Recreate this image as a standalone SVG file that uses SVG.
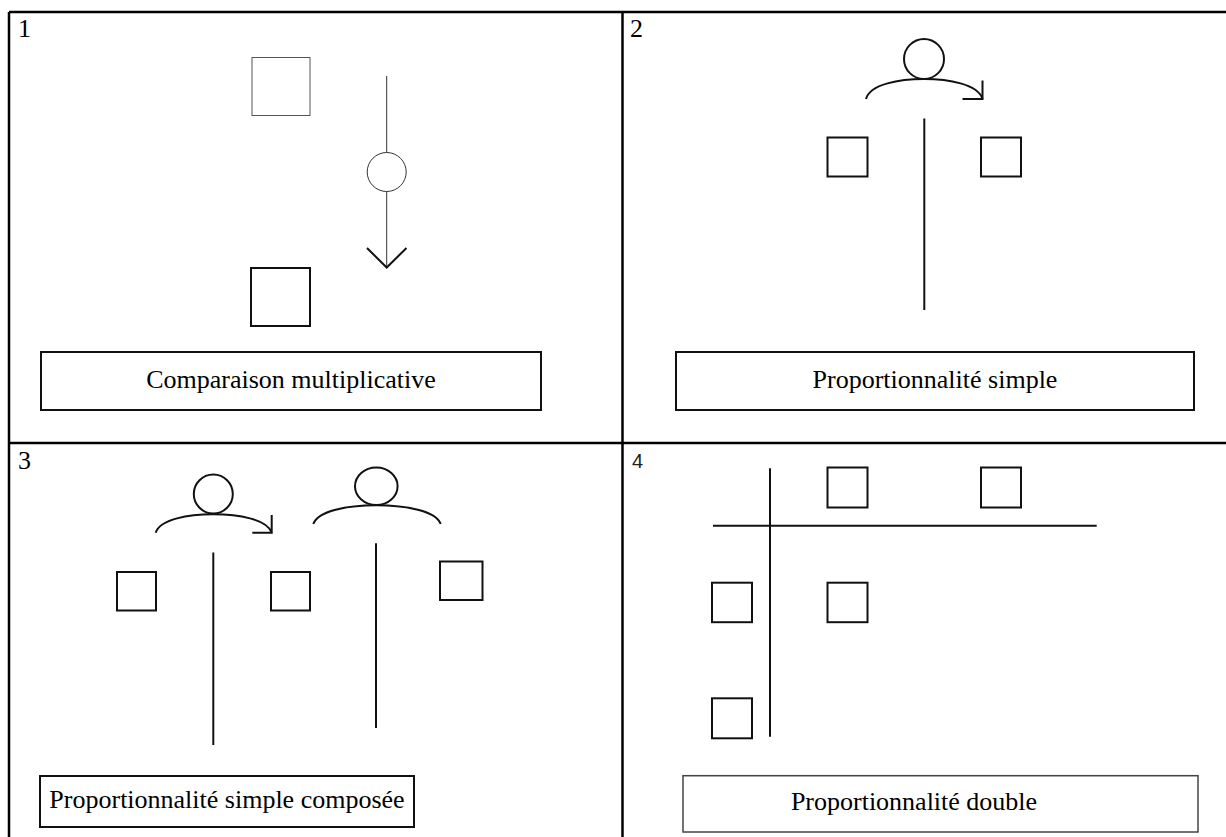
<svg xmlns="http://www.w3.org/2000/svg" width="1226" height="837" viewBox="0 0 1226 837">
<style>
.grid{stroke:#000;stroke-width:2.5;fill:none}
.sq{fill:#fff;stroke:#111;stroke-width:2}
.ln{stroke:#111;stroke-width:2;fill:none}
.thin{stroke:#333;stroke-width:1;fill:none}
.box{fill:#fff;stroke:#111;stroke-width:2}
.lbl{font-family:'Liberation Serif','Times New Roman',serif;font-size:26px;fill:#000}
.num{font-family:'Liberation Serif','Times New Roman',serif;font-size:26px;fill:#000}
</style>
<rect width="1226" height="837" fill="#fff"/>
<g id="grid">
<line class="grid" x1="9" y1="12" x2="1226" y2="12"/>
<line class="grid" x1="9" y1="12" x2="9" y2="837"/>
<line class="grid" x1="622.5" y1="12" x2="622.5" y2="837"/>
<line class="grid" x1="9" y1="443" x2="1226" y2="443"/>
</g>

<g id="panel1">
<text class="num" x="18" y="37">1</text>
<rect id="p1-sq-top" x="252" y="57.5" width="58" height="58" fill="#fff" stroke="#555" stroke-width="1"/>
<rect id="p1-sq-bottom" class="sq" x="251" y="268" width="59" height="58"/>
<g id="p1-connector">
<line class="thin" x1="386.7" y1="76" x2="386.7" y2="152.5"/>
<circle class="thin" cx="386.7" cy="172" r="19.5"/>
<line class="thin" x1="386.7" y1="191.5" x2="386.7" y2="267"/>
<polyline class="ln" points="367,248 386.7,267.5 406.5,248"/>
</g>
<g id="p1-label">
<rect class="box" x="41" y="352" width="500" height="58"/>
<text class="lbl" x="291" y="388" text-anchor="middle">Comparaison multiplicative</text>
</g>
</g>

<g id="panel2">
<text class="num" x="630" y="37">2</text>
<circle class="ln" cx="924" cy="59" r="20"/>
<path class="ln" d="M866,99 C870,84 900,79 924,79 C948,79 978,84 982.5,99"/>
<polyline class="ln" points="982.5,80.5 982.5,99 962.5,99"/>
<line class="ln" x1="924.3" y1="118.5" x2="924.3" y2="310"/>
<rect class="sq" x="827.5" y="137.5" width="40" height="39"/>
<rect class="sq" x="981" y="137.5" width="40" height="39"/>
<g id="p2-label">
<rect class="box" x="676" y="352" width="518" height="58"/>
<text class="lbl" x="935" y="388" text-anchor="middle">Proportionnalité simple</text>
</g>
</g>

<g id="panel3">
<text class="num" x="18" y="469">3</text>
<circle class="ln" cx="213.3" cy="494" r="19.5"/>
<path class="ln" d="M155.7,532.7 C160,519 189,514.3 213.3,514.3 C238,514.3 267,519 271.7,532.7"/>
<polyline class="ln" points="271.7,515 271.7,532.7 252.3,532.7"/>
<line class="ln" x1="213.3" y1="552.5" x2="213.3" y2="745"/>
<ellipse class="ln" cx="376.3" cy="486.3" rx="21.3" ry="18.7"/>
<path class="ln" d="M313.3,524 C318,511 347,505.3 376.3,505.3 C406,505.3 436,511 440.7,524"/>
<line class="ln" x1="376" y1="543.3" x2="376" y2="728"/>
<rect class="sq" x="117" y="572" width="39" height="38.5"/>
<rect class="sq" x="271" y="572" width="39" height="38.5"/>
<rect class="sq" x="440" y="561.5" width="42.5" height="38.5"/>
<g id="p3-label">
<rect class="box" x="40" y="776" width="374" height="51"/>
<text class="lbl" x="227" y="808" text-anchor="middle">Proportionnalité simple composée</text>
</g>
</g>

<g id="panel4">
<text x="632" y="468" font-family="'Liberation Sans',Arial,sans-serif" font-size="20" fill="#222">4</text>
<line class="ln" x1="770" y1="468.3" x2="770" y2="736.7"/>
<line class="ln" x1="713" y1="525.7" x2="1096.7" y2="525.7"/>
<rect class="sq" x="827.5" y="467.5" width="40" height="40"/>
<rect class="sq" x="981" y="467.5" width="40" height="40"/>
<rect class="sq" x="712" y="582.7" width="40" height="39.5"/>
<rect class="sq" x="827.5" y="582.7" width="40" height="39.5"/>
<rect class="sq" x="712" y="698.3" width="40" height="40"/>
<g id="p4-label">
<rect x="683" y="775.7" width="515" height="56.3" fill="#fff" stroke="#444" stroke-width="1.5"/>
<text class="lbl" x="914" y="810" text-anchor="middle">Proportionnalité double</text>
</g>
</g>
</svg>
